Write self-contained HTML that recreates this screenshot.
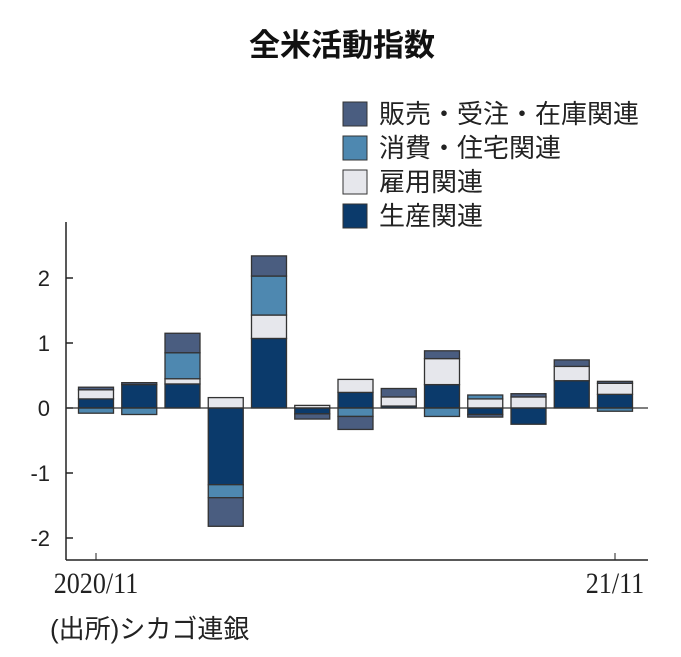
<!DOCTYPE html>
<html><head><meta charset="utf-8">
<style>
body{margin:0;background:#fff;width:681px;height:652px;overflow:hidden;font-family:"Liberation Sans","Noto Sans CJK JP",sans-serif;}
</style></head>
<body>
<svg id="chart" width="681" height="652" xmlns="http://www.w3.org/2000/svg">
<text x="342" y="56" text-anchor="middle" font-size="31" font-weight="bold" fill="#111" font-family="Liberation Sans, Noto Sans CJK JP, sans-serif">全米活動指数</text>
<g id="legend"></g>
<g id="axes"></g>
<g id="bars"></g>
<text x="50" y="638" font-size="26" fill="#222" font-family="Liberation Sans, Noto Sans CJK JP, sans-serif">(出所)シカゴ連銀</text>
</svg>
<script>
const categories=["2020/11","12","21/1","2","3","4","5","6","7","8","9","10","21/11"];
const seriesNames=["販売・受注・在庫関連","消費・住宅関連","雇用関連","生産関連"];
const production=[0.14,0.36,0.37,-1.18,1.07,-0.09,0.24,0.03,0.36,-0.1,-0.25,0.42,0.21];
const employment=[0.14,0.0,0.08,0.16,0.36,0.04,0.2,0.14,0.4,0.14,0.17,0.22,0.17];
const consumption=[-0.08,-0.1,0.4,-0.2,0.6,0.0,-0.13,0.0,-0.13,0.06,0.0,0.0,-0.05];
const sales=[0.04,0.03,0.3,-0.44,0.31,-0.08,-0.2,0.13,0.12,-0.04,0.05,0.1,0.03];
const yTicks=[2,1,0,-1,-2];
const xTickLabels=["2020/11","21/11"];
const xTickIdx=[0,12];

const NS="http://www.w3.org/2000/svg";
const colors=["#4a5d80","#4e88b0","#e6e7ec","#0b3a6b"];
const y=v=>408-v*65;
const x=i=>96+i*43.25;
function mk(tag,attrs,parent){const e=document.createElementNS(NS,tag);for(const k in attrs)e.setAttribute(k,attrs[k]);parent.appendChild(e);return e;}
const legend=document.getElementById('legend'),axes=document.getElementById('axes'),bars=document.getElementById('bars');
seriesNames.forEach((n,i)=>{
  const r=mk('rect',{x:343,y:102+i*34,width:24,height:24,fill:colors[i],stroke:'#333','stroke-width':1},legend);
  
  
  const t=mk('text',{x:379,y:123+i*34,'font-size':26,fill:'#222'},legend);
  t.textContent=n;
  
  
});
let l=mk('line',{x1:66,y1:222,x2:66,y2:560,stroke:'#222','stroke-width':1.5},axes);


l=mk('line',{x1:66,y1:560,x2:648,y2:560,stroke:'#222','stroke-width':1.5},axes);


yTicks.forEach(v=>{
  const tk=mk('line',{x1:66,y1:y(v),x2:73,y2:y(v),stroke:'#222','stroke-width':1.5},axes);
  
  
  const t=mk('text',{x:50,y:y(v)+8,'text-anchor':'end','font-size':22,fill:'#222'},axes);
  t.textContent=v<0?'-'+Math.abs(v):String(v);
  
  
});
xTickIdx.forEach((ix,k)=>{
  const tk=mk('line',{x1:x(ix),y1:553,x2:x(ix),y2:560,stroke:'#222','stroke-width':1},axes);
  
  
  const t=mk('text',{x:x(ix),y:593,'text-anchor':'middle','font-size':30,fill:'#222','font-family':'Liberation Serif, serif',transform:`translate(${x(ix)},0) scale(0.87,1) translate(${-x(ix)},0)`},axes);
  t.textContent=xTickLabels[k];
  
  
});
const stackOrder=[[production,3],[employment,2],[consumption,1],[sales,0]];
categories.forEach((c,i)=>{
  let pos=0,neg=0;
  stackOrder.forEach(([arr,ci])=>{
    const v=arr[i]; if(!v) return;
    let a,b;
    if(v>0){a=pos;b=pos+v;pos=b;}else{a=neg;b=neg+v;neg=b;}
    const top=Math.min(y(a),y(b)),h=Math.abs(y(a)-y(b));
    const r=mk('rect',{x:x(i)-17.5,y:top,width:35,height:h,fill:colors[ci],stroke:'#333','stroke-width':1.3},bars);
    
    
  });
});
l=mk('line',{x1:66,y1:y(0),x2:648,y2:y(0),stroke:'#333','stroke-width':1.2},bars);


</script>
</body></html>
